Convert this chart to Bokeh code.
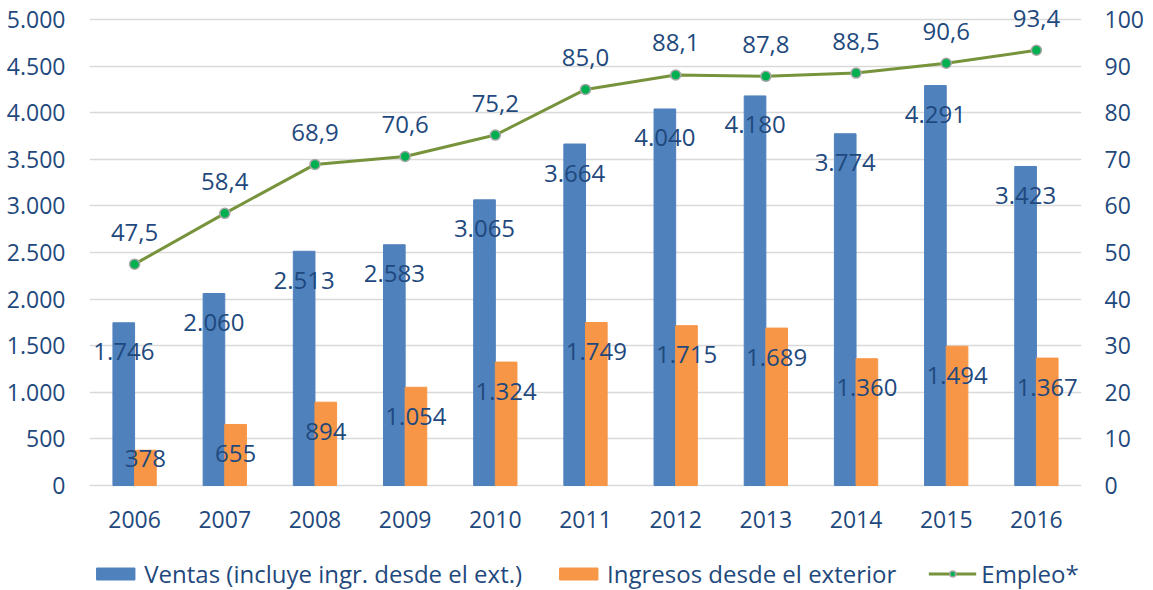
from bokeh.plotting import figure
from bokeh.models import (FactorRange, Range1d, LinearAxis, FixedTicker, Legend,
                          LegendItem, ColumnDataSource, CustomJSTickFormatter)
from bokeh.transform import dodge
from bokeh.core.properties import value
from bokeh.embed import file_html
from bokeh.resources import INLINE

# ---------------- data ----------------
years = ["2006", "2007", "2008", "2009", "2010", "2011", "2012", "2013", "2014", "2015", "2016"]
ventas = [1746, 2060, 2513, 2583, 3065, 3664, 4040, 4180, 3774, 4291, 3423]
ingresos = [378, 655, 894, 1054, 1324, 1749, 1715, 1689, 1360, 1494, 1367]
empleo = [47.5, 58.4, 68.9, 70.6, 75.2, 85.0, 88.1, 87.8, 88.5, 90.6, 93.4]
left_ticks = [0, 500, 1000, 1500, 2000, 2500, 3000, 3500, 4000, 4500, 5000]
right_ticks = [0, 10, 20, 30, 40, 50, 60, 70, 80, 90, 100]
legend_labels = ["Ventas (incluye ingr. desde el ext.)", "Ingresos desde el exterior", "Empleo*"]

# ---------------- style ----------------
FONT = "Open Sans"
TXT = "#1F497D"
BLUE = "#4F81BD"
ORANGE = "#F79646"
GREEN = "#77933C"
AX_FS = "23px"
LBL_FS = "24px"
LEG_FS = "24px"
FRAME_W = 992
PLOT_H = 466          # pixel height of the 0..max value span
HEADROOM = 19         # px above the top tick
FOOT = 105            # px below the zero line (category labels + legend)
LMAX, RMAX = left_ticks[-1], right_ticks[-1]


def fmt_int(v):
    return f"{v:,}".replace(",", ".")


def fmt_dec(v):
    return f"{v:.1f}".replace(".", ",")


dpp_left = LMAX / PLOT_H
dpp_right = RMAX / PLOT_H


def inside_end(v):
    px = v / dpp_left
    off = 29 if px - 29 >= 27 else px - 27
    return v - off * dpp_left


src = ColumnDataSource(dict(
    year=years,
    ventas=ventas,
    ingresos=ingresos,
    empleo=empleo,
    vy=[inside_end(v) for v in ventas],
    vt=[fmt_int(v) for v in ventas],
    iy=[inside_end(v) for v in ingresos],
    it=[fmt_int(v) for v in ingresos],
    ey=[v + 32 * dpp_right for v in empleo],
    et=[fmt_dec(v) for v in empleo],
    yy=[-34 * dpp_left] * len(years),
))

p = figure(x_range=FactorRange(*years),
           y_range=Range1d(-FOOT * dpp_left, LMAX + HEADROOM * dpp_left),
           frame_width=FRAME_W, frame_height=PLOT_H + HEADROOM + FOOT,
           min_border_left=89, min_border_right=64, min_border_top=0, min_border_bottom=0,
           output_backend="svg", toolbar_location=None)
p.extra_y_ranges = {"emp": Range1d(-FOOT * dpp_right, RMAX + HEADROOM * dpp_right)}
p.outline_line_color = None
p.background_fill_color = "white"
p.border_fill_color = "white"

# grid
p.xgrid.grid_line_color = None
p.ygrid.ticker = FixedTicker(ticks=left_ticks)
p.ygrid.grid_line_color = "#D9D9D9"
p.ygrid.grid_line_width = 1.3

# category axis drawn as labels under the zero line
p.xaxis.visible = False

# left axis
yax = p.yaxis[0]
yax.ticker = FixedTicker(ticks=left_ticks)
yax.formatter = CustomJSTickFormatter(
    code="return tick.toFixed(0).replace(/\\B(?=(\\d{3})+(?!\\d))/g, '.');")

# right axis
rax = LinearAxis(y_range_name="emp", ticker=FixedTicker(ticks=right_ticks))
p.add_layout(rax, "right")
yax.major_label_standoff = 24
rax.major_label_standoff = 23

for ax in (yax, rax):
    ax.axis_line_color = None
    ax.major_tick_line_color = None
    ax.minor_tick_line_color = None
    ax.major_tick_in = 0
    ax.major_tick_out = 0
    ax.major_label_text_font = FONT
    ax.major_label_text_font_size = AX_FS
    ax.major_label_text_color = TXT

# bars
b1 = p.vbar(x=dodge("year", -0.12, range=p.x_range), top="ventas", width=0.24,
            source=src, fill_color=BLUE, line_color=BLUE)
b2 = p.vbar(x=dodge("year", 0.12, range=p.x_range), top="ingresos", width=0.24,
            source=src, fill_color=ORANGE, line_color=ORANGE)

# line
l1 = p.line(x="year", y="empleo", source=src, y_range_name="emp",
            line_color=GREEN, line_width=3)
s1 = p.scatter(x="year", y="empleo", source=src, y_range_name="emp", size=10,
               fill_color="#00B050", line_color="#A6A6A6", line_width=1.5)

# labels
common = dict(text_font=value(FONT), text_font_size=LBL_FS, text_color=TXT,
              text_align="center", text_baseline="middle", source=src)
p.text(x=dodge("year", -0.12, range=p.x_range), y="vy", text="vt", **common)
p.text(x=dodge("year", 0.12, range=p.x_range), y="iy", text="it", **common)
p.text(x="year", y="ey", text="et", y_range_name="emp", **common)

# category labels
p.text(x="year", y="yy", text="year", source=src, text_font=value(FONT),
       text_font_size=AX_FS, text_color=TXT, text_align="center", text_baseline="middle")

legend = Legend(items=[
    LegendItem(label=legend_labels[0], renderers=[b1]),
    LegendItem(label=legend_labels[1], renderers=[b2]),
    LegendItem(label=legend_labels[2], renderers=[l1, s1]),
], orientation="horizontal", location="bottom_center",
    glyph_width=48, glyph_height=15, spacing=32, label_standoff=5,
    padding=0, margin=0, border_line_alpha=0, background_fill_alpha=0,
    label_text_font=FONT, label_text_font_size=LEG_FS, label_text_color=TXT)
p.add_layout(legend)

open("out.html", "w").write(file_html(p, INLINE))
